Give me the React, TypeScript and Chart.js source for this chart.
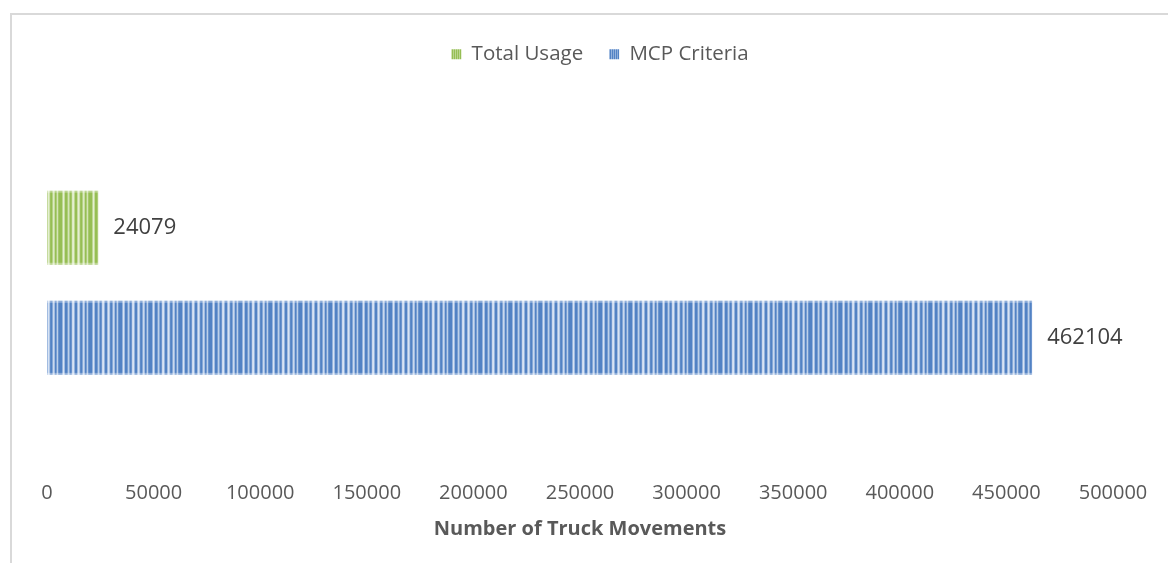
import React, { useEffect, useRef } from 'react';
import { Chart, registerables } from 'chart.js';

Chart.register(...registerables);

const categories = [''];
const seriesNames = ['Total Usage', 'MCP Criteria'];
const totalUsage = [24079];
const mcpCriteria = [462104];
const tickValues = [0, 50000, 100000, 150000, 200000, 250000, 300000, 350000, 400000, 450000, 500000];
const axisTitle = 'Number of Truck Movements';

const stripeLevels = [0, 0, 0.5, 1, 0.6, 0, 0, 0.3, 0.8, 0.4, 0, 0.2, 0.9, 1, 0.5, 0, 0, 0.6, 1, 0.7, 0.1, 0, 0.4, 0.9, 0.6, 0, 0.3, 0.8, 0.2, 0];
const legendStripeLevels = [0, 0.45, 0, 0.5];

function makePattern(levels: number[], dark: number[], light: number[]) {
  const c = document.createElement('canvas');
  c.width = levels.length;
  c.height = 4;
  const ctx = c.getContext('2d')!;
  levels.forEach((t, i) => {
    const r = Math.round(dark[0] + (light[0] - dark[0]) * t);
    const g = Math.round(dark[1] + (light[1] - dark[1]) * t);
    const b = Math.round(dark[2] + (light[2] - dark[2]) * t);
    ctx.fillStyle = `rgb(${r},${g},${b})`;
    ctx.fillRect(i, 0, 1, 4);
  });
  return ctx.createPattern(c, 'repeat')!;
}

const FONT = "'Open Sans', sans-serif";

export default function App() {
  const ref = useRef<HTMLCanvasElement | null>(null);

  useEffect(() => {
    if (!ref.current) return;
    const greenDark = [150, 190, 84];
    const greenLight = [228, 239, 208];
    const blueDark = [82, 130, 196];
    const blueLight = [215, 227, 244];
    const greenPat = makePattern(stripeLevels, greenDark, greenLight);
    const bluePat = makePattern(stripeLevels, blueDark, blueLight);
    const legendPats = [
      makePattern(legendStripeLevels, greenDark, greenLight),
      makePattern(legendStripeLevels, blueDark, blueLight),
    ];

    const legendTweak = {
      id: 'legendTweak',
      beforeInit(chart: any) {
        const lg = chart.legend;
        const origFit = lg.fit;
        lg.fit = function () {
          origFit.call(this);
          this.height += 13;
        };
        const origDraw = lg.draw;
        lg.draw = function () {
          const ctx = this.ctx;
          ctx.save();
          ctx.translate(20, 0);
          origDraw.call(this);
          ctx.restore();
        };
      },
    };

    const labelsPlugin = {
      id: 'barLabels',
      afterDatasetsDraw(chart: any) {
        const ctx = chart.ctx;
        ctx.save();
        chart.data.datasets.forEach((ds: any, di: number) => {
          const meta = chart.getDatasetMeta(di);
          meta.data.forEach((el: any, i: number) => {
            const top = el.y - el.height / 2;
            const left = Math.min(el.base, el.x);
            const w = Math.abs(el.x - el.base);
            ctx.fillStyle = 'rgba(255,255,255,0.35)';
            ctx.fillRect(left, top, w, 2);
            ctx.fillRect(left, top + el.height - 2, w, 2);
            ctx.fillStyle = '#404040';
            ctx.font = `22px ${FONT}`;
            ctx.textBaseline = 'middle';
            ctx.textAlign = 'left';
            ctx.fillText(String(ds.data[i]), el.x + 15, el.y);
          });
        });
        ctx.restore();
      },
    };

    const chart = new Chart(ref.current, {
      type: 'bar',
      data: {
        labels: categories,
        datasets: [
          { label: seriesNames[0], data: totalUsage, backgroundColor: greenPat, borderWidth: 0 },
          { label: seriesNames[1], data: mcpCriteria, backgroundColor: bluePat, borderWidth: 0 },
        ],
      },
      options: {
        indexAxis: 'y',
        animation: false,
        responsive: false,
        layout: { padding: { left: 47, right: 55, top: 18, bottom: 18 } },
        categoryPercentage: 0.564,
        barPercentage: 0.673,
        plugins: {
          tooltip: { enabled: false },
          legend: {
            position: 'top',
            labels: {
              boxWidth: 10,
              boxHeight: 10,
              padding: 26,
              color: '#595959',
              font: { family: FONT, size: 20.5 },
              generateLabels: (chart: any) =>
                chart.data.datasets.map((ds: any, i: number) => ({
                  text: ds.label,
                  fillStyle: legendPats[i],
                  strokeStyle: 'rgba(0,0,0,0)',
                  lineWidth: 0,
                  hidden: false,
                  datasetIndex: i,
                  fontColor: '#595959',
                })),
            },
          },
        },
        scales: {
          x: {
            type: 'linear',
            min: 0,
            max: 500000,
            afterBuildTicks: (axis: any) => {
              axis.ticks = tickValues.map((v) => ({ value: v }));
            },
            grid: { display: false, drawTicks: false },
            border: { display: false },
            ticks: {
              padding: 3,
              maxRotation: 0,
              autoSkip: false,
              color: '#595959',
              font: { family: FONT, size: 20 },
              callback: (v: any) => String(v),
            },
            title: {
              display: true,
              text: axisTitle,
              color: '#595959',
              font: { family: FONT, size: 20, weight: 'bold' },
              padding: { top: 9, bottom: 4 },
            },
          },
          y: { display: false },
        },
      } as any,
      plugins: [legendTweak, labelsPlugin],
    });
    return () => chart.destroy();
  }, []);

  return (
    <div style={{ position: 'absolute', left: 0, top: 0, width: 1168, height: 563, background: '#fff', overflow: 'hidden' }}>
      <div
        style={{
          position: 'absolute',
          left: 10,
          top: 13,
          width: 1200,
          height: 600,
          borderTop: '2px solid #d9d9d9',
          borderLeft: '2px solid #d9d9d9',
        }}
      />
      <canvas ref={ref} width={1168} height={563} style={{ position: 'absolute', left: 0, top: 0, width: 1168, height: 563 }} />
    </div>
  );
}
